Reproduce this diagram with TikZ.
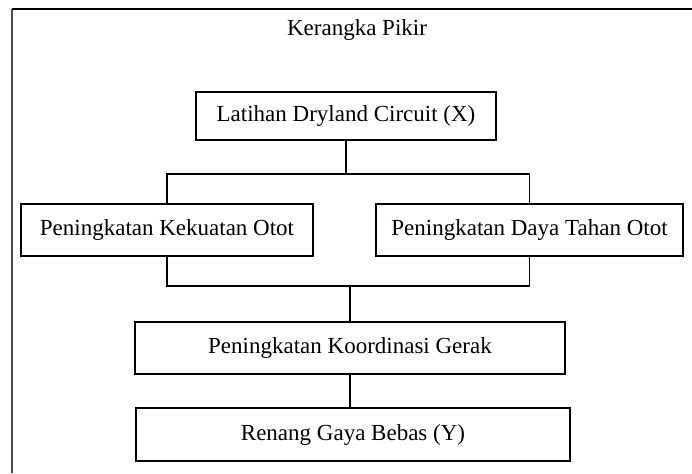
\documentclass[tikz,border=0pt]{standalone}
\usepackage{fontspec}
\setmainfont{Liberation Serif}
\begin{document}
\begin{tikzpicture}[x=1pt,y=-1pt,
  kotak/.style={draw,line width=1.6pt,inner sep=0pt,font=\fontsize{23}{27}\selectfont},
  garis/.style={line width=1.6pt}]
\useasboundingbox (0,0) rectangle (692,473);

% bingkai
\draw[line width=1.8pt,gray!60!black] (12,9) -- (12,473);
\draw[line width=1.1pt] (12,9) -- (692,9);
\node[font=\fontsize{23}{27}\selectfont] (judul) at (357,30) {Kerangka Pikir};

\node[kotak,minimum width=300,minimum height=48] (latihan) at (346,116) {Latihan Dryland Circuit (X)};
\node[kotak,minimum width=292,minimum height=52] (kekuatan) at (167,230) {Peningkatan Kekuatan Otot};
\node[kotak,minimum width=307,minimum height=52] (dayatahan) at (529.5,230) {Peningkatan Daya Tahan Otot};
\node[kotak,minimum width=430,minimum height=52] (koordinasi) at (350,348) {Peningkatan Koordinasi Gerak};
\node[kotak,minimum width=434,minimum height=53] (renang) at (353,434.5) {Renang Gaya Bebas (Y)};

\draw[garis] (latihan.south) -- ++(0,33) coordinate (cabang);
\draw[garis] (cabang) -| (kekuatan.north);
\draw[garis] (cabang) -| (dayatahan.north);

\path (koordinasi.north) ++(0,-35) coordinate (gabung);
\draw[garis] (kekuatan.south) |- (gabung) -| (dayatahan.south);
\draw[garis] (gabung) -- (koordinasi.north);
\draw[garis] (koordinasi.south) -- (koordinasi.south |- renang.north);

\end{tikzpicture}
\end{document}
